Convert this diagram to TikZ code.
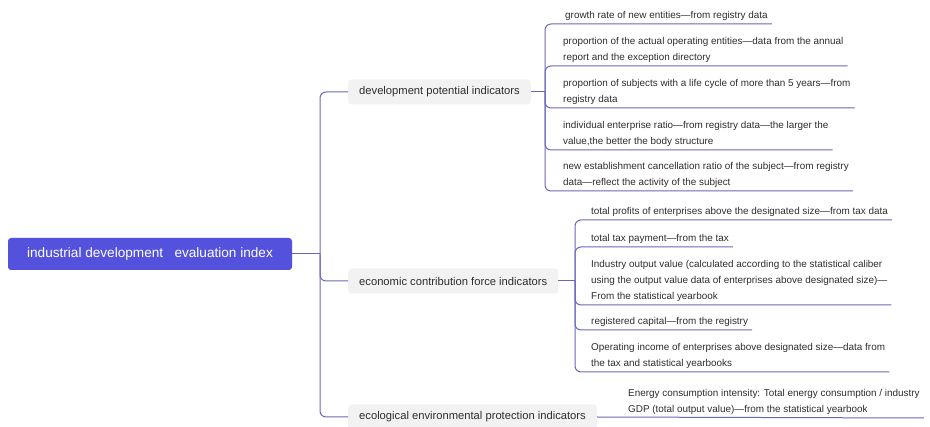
\documentclass[tikz,border=0pt]{standalone}
\usepackage{fontspec}
\setmainfont{Liberation Sans}
\definecolor{rootblue}{RGB}{84,82,220}
\definecolor{linkblue}{RGB}{104,104,188}
\definecolor{boxgray}{RGB}{242,242,242}
\definecolor{textgray}{RGB}{45,45,45}

\begin{document}
\begin{tikzpicture}[x=1pt,y=-1pt,
  rootnode/.style={fill=rootblue,rounded corners=3pt,text=white,font=\fontsize{13.6}{15}\selectfont,minimum width=284pt,minimum height=32pt},
  groupnode/.style={fill=boxgray,rounded corners=3pt,text=textgray,font=\fontsize{11.2}{13}\selectfont,anchor=west,inner xsep=11pt,minimum height=25pt},
  leafnode/.style={anchor=south west,align=left,text=textgray,font=\fontsize{9.9}{16}\selectfont,inner xsep=4pt,inner ysep=3.5pt},
  link/.style={draw=linkblue,line width=1pt,rounded corners=6pt}]
				\useasboundingbox (0,0) rectangle (930,427);

				% root and the three groups
				\node[rootnode] (root) at (150,254) {industrial development\ \ \ evaluation index};
				\node[groupnode] (potential) at (348,92) {development potential indicators};
				\node[groupnode] (economic) at (348,281) {economic contribution force indicators};
				\node[groupnode] (ecological) at (348,417) {ecological environmental protection indicators};
				\coordinate (hub) at (320,254);
				\draw[link] (root.east) -- (hub);
				\draw[link] (hub) |- (potential.west);
				\draw[link] (hub) |- (economic.west);
				\draw[link] (hub) |- (ecological.west);

				% development potential
				\coordinate (hubA) at (545,92);
				\node[leafnode] (pa) at (561,24) {growth rate of new entities—from registry data};
				\node[leafnode] (pb) at (559,66) {proportion of the actual operating entities—data from the annual\\report and the exception directory};
				\node[leafnode] (pc) at (559,108) {proportion of subjects with a life cycle of more than 5 years—from\\registry data};
				\node[leafnode] (pd) at (559,150) {individual enterprise ratio—from registry data—the larger the\\value,the better the body structure};
				\node[leafnode] (pe) at (559,191) {new establishment cancellation ratio of the subject—from registry\\data—reflect the activity of the subject};
				\draw[link] (potential.east) -- (hubA);
				\draw[link] (hubA) |- (pa.south east);
				\draw[link] (hubA) |- (pb.south east);
				\draw[link] (hubA) |- (pc.south east);
				\draw[link] (hubA) |- (pd.south east);
				\draw[link] (hubA) |- (pe.south east);

				% economic contribution
				\coordinate (hubB) at (575,281);
				\node[leafnode] (ea) at (587,220) {total profits of enterprises above the designated size—from tax data};
				\node[leafnode] (eb) at (587,247) {total tax payment—from the tax};
				\node[leafnode] (ec) at (587,305) {Industry output value (calculated according to the statistical caliber\\using the output value data of enterprises above designated size)—\\From the statistical yearbook};
				\node[leafnode] (ed) at (587,330) {registered capital—from the registry};
				\node[leafnode] (ee) at (587,372) {Operating income of enterprises above designated size—data from\\the tax and statistical yearbooks};
				\draw[link] (economic.east) -- (hubB);
				\draw[link] (hubB) |- (ea.south east);
				\draw[link] (hubB) |- (eb.south east);
				\draw[link] (hubB) |- (ec.south east);
				\draw[link] (hubB) |- (ed.south east);
				\draw[link] (hubB) |- (ee.south east);

				% ecological protection
				\node[leafnode] (ga) at (624,418) {Energy consumption intensity: Total energy consumption / industry\\GDP (total output value)—from the statistical yearbook};
				\draw[link] (ecological.east) -- (ga.south east);
\end{tikzpicture}
\end{document}
